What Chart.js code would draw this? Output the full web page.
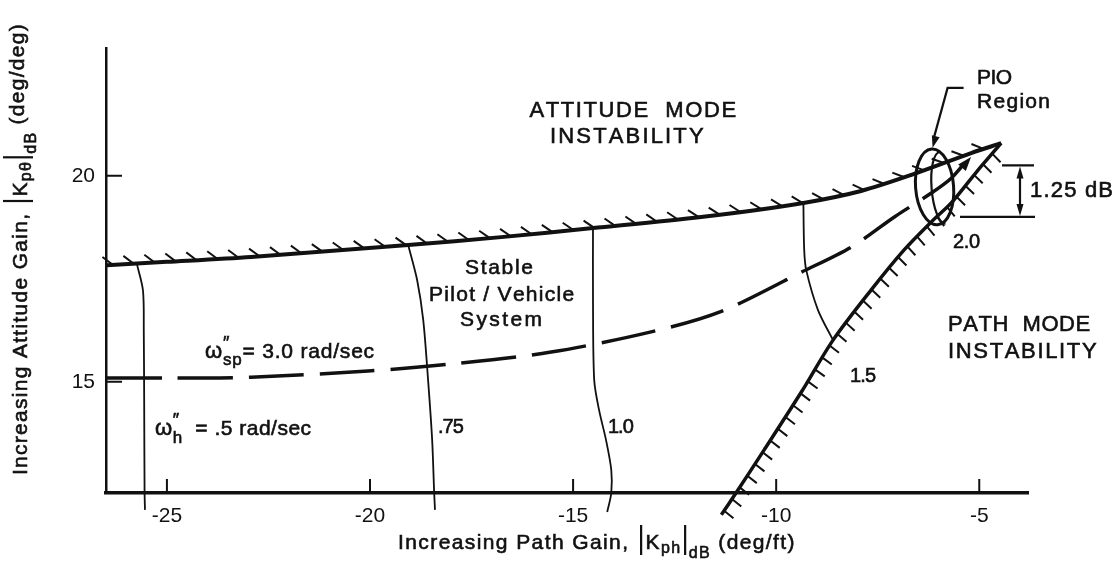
<!DOCTYPE html>
<html>
<head>
<meta charset="utf-8">
<script src="https://cdn.jsdelivr.net/npm/chart.js@4.4.1/dist/chart.umd.min.js"></script>
<style>
  html, body { margin: 0; padding: 0; background: #fff; }
  #wrap { width: 1120px; height: 581px; }
</style>
</head>
<body>
<div id="wrap"><canvas id="chart"></canvas></div>
<script>
const xTicks = [-25, -20, -15, -10, -5];
const yTicks = [15, 20];

// attitude mode stability boundary (hatched above)
const attitudeX = [-26.48, -25.0, -22.93, -19.06, -16.77, -14.51, -11.85, -9.33, -7.91, -6.67, -5.20, -4.46];
const attitudeY = [17.83, 17.91, 18.03, 18.32, 18.51, 18.73, 19.00, 19.34, 19.63, 20.02, 20.55, 20.79];

// path mode stability boundary (hatched to the right)
const pathX = [-11.35, -10.99, -10.30, -9.38, -8.60, -7.66, -6.85, -6.18, -5.69, -5.07, -4.46];
const pathY = [11.77, 12.30, 13.34, 14.75, 16.01, 17.23, 18.20, 18.88, 19.34, 20.09, 20.79];

// w''sp = 3.0 rad/sec
const wspX = [-26.48, -25.0, -22.93, -20.05, -18.00, -15.54, -13.08, -11.35, -9.38, -8.15, -7.09, -6.18, -5.69, -5.30];
const wspY = [15.09, 15.09, 15.11, 15.26, 15.43, 15.72, 16.21, 16.71, 17.66, 18.27, 19.00, 19.58, 19.94, 20.38];

// w''h contours
const wh05X = [-25.74, -25.59, -25.57, -25.56, -25.55, -25.54];
const wh05Y = [17.86, 17.22, 16.25, 14.50, 12.30, 11.89];
const wh075X = [-19.06, -18.84, -18.69, -18.57, -18.47, -18.42, -18.40];
const wh075Y = [18.32, 17.47, 16.50, 15.04, 13.59, 12.30, 11.89];
const wh10X = [-14.51, -14.51, -14.48, -14.36, -14.19, -14.06, -14.06, -14.16];
const wh10Y = [18.73, 16.98, 15.04, 14.31, 13.59, 12.86, 12.30, 11.84];
const wh15X = [-9.33, -9.31, -9.26, -8.97, -8.60];
const wh15Y = [19.34, 18.20, 17.71, 16.74, 16.01];

// PIO region centre and the 1.25 dB band
const pioCenter = [-6.1, 19.73];
const bandY = [20.25, 19.0];

const FONT = "'Liberation Sans', Arial, sans-serif";
const INK = '#111';

const mk = (xs, ys) => xs.map((x, i) => ({ x: x, y: ys[i] }));

function curve(data, width, extra) {
    return Object.assign({
        data: data,
        showLine: true,
        borderColor: INK,
        borderWidth: width,
        pointRadius: 0,
        tension: 0.3,
        clip: false
    }, extra || {});
}

// sample the drawn bezier of a dataset into a dense polyline
function samplePath(meta) {
    const p = meta.data;
    const out = [];
    for (let i = 0; i < p.length - 1; i++) {
        const a = p[i], b = p[i + 1];
        const c1x = a.cp2x ?? a.x, c1y = a.cp2y ?? a.y;
        const c2x = b.cp1x ?? b.x, c2y = b.cp1y ?? b.y;
        for (let k = 0; k < 20; k++) {
            const t = k / 20, u = 1 - t;
            out.push({
                x: u * u * u * a.x + 3 * u * u * t * c1x + 3 * u * t * t * c2x + t * t * t * b.x,
                y: u * u * u * a.y + 3 * u * u * t * c1y + 3 * u * t * t * c2y + t * t * t * b.y
            });
        }
    }
    const last = p[p.length - 1];
    out.push({ x: last.x, y: last.y });
    return out;
}

function drawHatch(ctx, pts, h) {
    const ang = h.angle * Math.PI / 180;
    const ca = Math.cos(ang), sa = Math.sin(ang);
    let acc = h.offset;
    ctx.save();
    ctx.strokeStyle = INK;
    ctx.lineWidth = h.width;
    ctx.beginPath();
    for (let i = 0; i < pts.length - 1; i++) {
        const a = pts[i], b = pts[i + 1];
        const dx = b.x - a.x, dy = b.y - a.y, L = Math.hypot(dx, dy);
        if (!L) continue;
        const ux = dx / L, uy = dy / L;
        let t = acc;
        while (t <= L) {
            const px = a.x + ux * t, py = a.y + uy * t;
            const hx = ca * ux - sa * uy, hy = sa * ux + ca * uy;
            ctx.moveTo(px, py);
            ctx.lineTo(px + hx * h.len, py + hy * h.len);
            t += h.spacing;
        }
        acc = t - L;
    }
    ctx.stroke();
    ctx.restore();
}

function arrowHead(ctx, x, y, dx, dy, len, half) {
    const L = Math.hypot(dx, dy), ux = dx / L, uy = dy / L;
    ctx.beginPath();
    ctx.moveTo(x, y);
    ctx.lineTo(x - ux * len - uy * half, y - uy * len + ux * half);
    ctx.lineTo(x - ux * len + uy * half, y - uy * len - ux * half);
    ctx.closePath();
    ctx.fill();
}

function ink(ctx, s, x, y) {
    ctx.fillText(s, x, y);
    ctx.strokeText(s, x, y);
}

// plain label, optionally stretched to a width with letter spacing
function label(ctx, text, x, y, size, align, width) {
    ctx.save();
    ctx.font = size + 'px ' + FONT;
    ctx.fillStyle = INK;
    ctx.strokeStyle = INK;
    ctx.lineWidth = 0.6;
    ctx.textBaseline = 'middle';
    ctx.textAlign = 'left';
    const nat = ctx.measureText(text).width;
    let ls = 0;
    if (width && text.length > 1) ls = Math.max(-1, Math.min(6, (width - nat) / (text.length - 1)));
    const w = nat + ls * (text.length - 1);
    let x0 = x;
    if (align === 'center') x0 = x - w / 2;
    if (align === 'right') x0 = x - w;
    let cx = x0;
    for (const ch of text) {
        ink(ctx, ch, cx, y);
        cx += ctx.measureText(ch).width + ls;
    }
    ctx.restore();
}

// rich text on a baseline: parts {t,size,dy,adv} or {bar,top,bottom,w}; ls = extra spacing per char
function rich(ctx, parts, x, y, align, ls) {
    ls = ls || 0;
    ctx.save();
    ctx.fillStyle = INK;
    ctx.strokeStyle = INK;
    ctx.textBaseline = 'alphabetic';
    ctx.textAlign = 'left';
    let total = 0;
    parts.forEach(p => {
        if (p.bar) { total += p.w; return; }
        ctx.font = p.size + 'px ' + FONT;
        p.width = 0;
        for (const ch of p.t) p.width += ctx.measureText(ch).width + ls;
        if (p.adv !== false) total += p.width;
    });
    let cx = align === 'center' ? x - total / 2 : x;
    parts.forEach(p => {
        if (p.bar) {
            ctx.lineWidth = 2.2;
            ctx.beginPath();
            ctx.moveTo(cx + p.w / 2, y + p.top);
            ctx.lineTo(cx + p.w / 2, y + p.bottom);
            ctx.stroke();
            cx += p.w;
            return;
        }
        ctx.font = p.size + 'px ' + FONT;
        ctx.lineWidth = 0.6;
        let tx = cx;
        for (const ch of p.t) {
            ink(ctx, ch, tx, y + (p.dy || 0));
            tx += ctx.measureText(ch).width + ls;
        }
        if (p.adv !== false) cx += p.width;
    });
    ctx.restore();
}

const decor = {
    id: 'decor',
    afterDatasetsDraw(chart) {
        const ctx = chart.ctx;
        const xs = chart.scales.x, ys = chart.scales.y;
        const area = chart.chartArea;

        // inward tick marks
        ctx.save();
        ctx.strokeStyle = INK;
        ctx.lineWidth = 2;
        ctx.beginPath();
        xTicks.forEach(v => {
            const px = xs.getPixelForValue(v);
            ctx.moveTo(px, area.bottom);
            ctx.lineTo(px, area.bottom - 14);
        });
        yTicks.forEach(v => {
            const py = ys.getPixelForValue(v);
            ctx.moveTo(area.left, py);
            ctx.lineTo(area.left + 16, py);
        });
        ctx.stroke();
        ctx.restore();

        // hatching and arrow heads along curves
        chart.data.datasets.forEach((ds, i) => {
            const meta = chart.getDatasetMeta(i);
            if (!ds.hatch && !ds.arrow) return;
            const pts = samplePath(meta);
            if (ds.hatch) drawHatch(ctx, pts, ds.hatch);
            if (ds.arrow) {
                const a = pts[pts.length - 4], b = pts[pts.length - 1];
                ctx.save();
                ctx.fillStyle = INK;
                arrowHead(ctx, b.x + 4, b.y - 3, b.x - a.x, b.y - a.y, 14, 5);
                ctx.restore();
            }
        });

        // PIO region ellipse
        const cx = xs.getPixelForValue(pioCenter[0]);
        const cy = ys.getPixelForValue(pioCenter[1]);
        ctx.save();
        ctx.strokeStyle = INK;
        ctx.lineWidth = 3;
        ctx.beginPath();
        ctx.ellipse(cx, cy, 19, 38, -0.08, 0, Math.PI * 2);
        ctx.stroke();
        ctx.lineWidth = 2.2;
        ctx.beginPath();
        ctx.ellipse(cx + 8, cy + 1, 11, 36, -0.08, Math.PI / 2, Math.PI * 1.5);
        ctx.stroke();
        // leader to the label
        ctx.lineWidth = 2.2;
        ctx.beginPath();
        ctx.moveTo(cx + 29, cy - 99);
        ctx.lineTo(cx + 13, cy - 99);
        ctx.lineTo(cx - 1, cy - 48);
        ctx.stroke();
        ctx.fillStyle = INK;
        arrowHead(ctx, cx - 2, cy - 39, -14, 51, 12, 4);

        // 1.25 dB band
        const yt = ys.getPixelForValue(bandY[0]);
        const yb = ys.getPixelForValue(bandY[1]);
        ctx.lineWidth = 2.2;
        ctx.beginPath();
        ctx.moveTo(1002, yt); ctx.lineTo(1034, yt);
        ctx.moveTo(960, yb); ctx.lineTo(1035, yb);
        ctx.moveTo(1020, yt + 10); ctx.lineTo(1020, yb - 10);
        ctx.stroke();
        arrowHead(ctx, 1020, yt + 1, 0, -1, 12, 3.5);
        arrowHead(ctx, 1020, yb - 1, 0, 1, 12, 3.5);
        ctx.restore();

        label(ctx, '1.25 dB', 1030, (yt + yb) / 2, 22, 'left', 83);

        // region and curve labels
        label(ctx, 'ATTITUDE  MODE', 632, 111, 22, 'center', 205);
        label(ctx, 'INSTABILITY', 626, 137, 22, 'center', 152);
        label(ctx, 'Stable', 499, 268, 21, 'center', 68);
        label(ctx, 'Pilot / Vehicle', 501, 295, 21, 'center', 144);
        label(ctx, 'System', 501, 320, 21, 'center', 82);
        label(ctx, 'PATH  MODE', 948, 325, 22, 'left', 139);
        label(ctx, 'INSTABILITY', 948, 352, 22, 'left', 147);
        label(ctx, 'PIO', 977, 78, 21, 'left', 35);
        label(ctx, 'Region', 977, 102, 21, 'left', 73);
        label(ctx, '.75', 438, 427, 20, 'left', 24);
        label(ctx, '1.0', 608, 427, 20, 'left', 24);
        label(ctx, '1.5', 850, 376, 20, 'left', 26);
        label(ctx, '2.0', 953, 242, 20, 'left', 27);

        rich(ctx, [
            { t: '\u03C9', size: 22 },
            { t: '\u2033', size: 18, dy: -9, adv: false },
            { t: 'sp', size: 17, dy: 7 },
            { t: '= 3.0 rad/sec', size: 21 }
        ], 205, 358, 'left', 0.8);
        rich(ctx, [
            { t: '\u03C9', size: 22 },
            { t: '\u2033', size: 18, dy: -9, adv: false },
            { t: 'h', size: 17, dy: 8 },
            { t: '  = .5 rad/sec', size: 21 }
        ], 155, 435, 'left', 0.5);
    },
    afterDraw(chart) {
        const ctx = chart.ctx;
        // x axis title
        rich(ctx, [
            { t: 'Increasing Path Gain, ', size: 21 },
            { bar: true, top: -24, bottom: 6, w: 9 },
            { t: 'K', size: 21 },
            { t: 'ph', size: 16, dy: 4 },
            { bar: true, top: -24, bottom: 6, w: 7 },
            { t: 'dB', size: 16, dy: 9 },
            { t: ' (deg/ft)', size: 21 }
        ], 597, 549, 'center', 1.4);
        // y axis title
        ctx.save();
        ctx.translate(27, 249);
        ctx.rotate(-Math.PI / 2);
        rich(ctx, [
            { t: 'Increasing Attitude Gain, ', size: 21 },
            { bar: true, top: -24, bottom: 6, w: 9 },
            { t: 'K', size: 21 },
            { t: 'p\u03B8', size: 16, dy: 4 },
            { bar: true, top: -24, bottom: 6, w: 7 },
            { t: 'dB', size: 16, dy: 9 },
            { t: ' (deg/deg)', size: 21, dy: -3 }
        ], 0, 0, 'center', 1.3);
        ctx.restore();
    }
};

const tickFont = { family: FONT, size: 21 };

new Chart(document.getElementById('chart'), {
    type: 'scatter',
    data: {
        datasets: [
            curve(mk(attitudeX, attitudeY), 4, { hatch: { spacing: 21, len: 13, angle: -140, offset: 6, width: 2 } }),
            curve(mk(pathX, pathY), 3.5, { hatch: { spacing: 14, len: 12, angle: 95, offset: 5, width: 2 } }),
            curve(mk(wspX, wspY), 3.5, { borderDash: [55, 16], arrow: true }),
            curve(mk(wh05X, wh05Y), 1.8),
            curve(mk(wh075X, wh075Y), 1.8),
            curve(mk(wh10X, wh10Y), 1.8),
            curve(mk(wh15X, wh15Y), 1.8)
        ]
    },
    options: {
        responsive: true,
        maintainAspectRatio: false,
        animation: false,
        layout: { padding: { top: 48, right: 92, left: 0, bottom: 0 } },
        plugins: { legend: { display: false }, tooltip: { enabled: false } },
        scales: {
            x: {
                type: 'linear',
                min: -26.5,
                max: -3.8,
                afterBuildTicks: s => { s.ticks = xTicks.map(v => ({ value: v })); },
                afterFit: s => { s.height = 88; },
                grid: { display: false, drawTicks: false },
                border: { display: true, width: 3.5, color: INK },
                ticks: { font: tickFont, color: INK, padding: 11, maxRotation: 0 }
            },
            y: {
                type: 'linear',
                min: 12.3,
                max: 23.1,
                afterBuildTicks: s => { s.ticks = yTicks.map(v => ({ value: v })); },
                afterFit: s => { s.width = 106; },
                grid: { display: false, drawTicks: false },
                border: { display: true, width: 2.5, color: INK },
                ticks: { font: tickFont, color: INK, padding: 11 }
            }
        }
    },
    plugins: [decor]
});
</script>
</body>
</html>
